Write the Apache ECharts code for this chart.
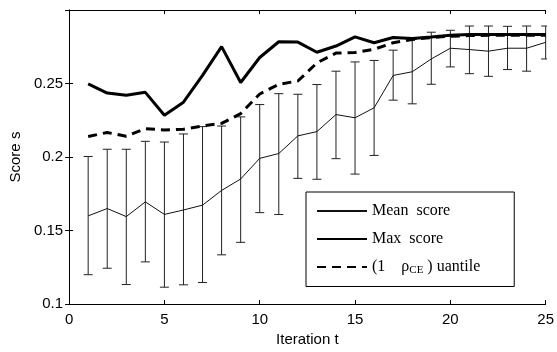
<!DOCTYPE html>
<html>
<head>
<meta charset="utf-8">
<script src="https://cdn.jsdelivr.net/npm/echarts@6/dist/echarts.min.js"></script>
<style>
  html, body { margin: 0; padding: 0; background: #fff; }
  #chart { width: 557px; height: 352px; }
</style>
</head>
<body>
<div id="chart"></div>
<script>
var iterations = [1, 2, 3, 4, 5, 6, 7, 8, 9, 10, 11, 12, 13, 14, 15, 16, 17, 18, 19, 20, 21, 22, 23, 24, 25];
var meanScore = [0.160, 0.165, 0.1595, 0.1695, 0.161, 0.164, 0.1673, 0.1773, 0.1851, 0.1991, 0.2024, 0.2144, 0.2173,
                 0.2289, 0.2267, 0.2335, 0.2555, 0.258, 0.2667, 0.274, 0.2731, 0.272, 0.274, 0.274, 0.278];
var errLow = [0.120, 0.1244, 0.1133, 0.1287, 0.1115, 0.1131, 0.1147, 0.1335, 0.142, 0.1622, 0.1609, 0.1855, 0.1849,
              0.1989, 0.1884, 0.2011, 0.2387, 0.2362, 0.2495, 0.2613, 0.2567, 0.2549, 0.2595, 0.2584, 0.2667];
var errHigh = [0.2004, 0.2053, 0.2053, 0.2107, 0.2102, 0.2157, 0.2207, 0.2211, 0.2273, 0.2357, 0.2431, 0.2427, 0.2493,
               0.2584, 0.2647, 0.2657, 0.2727, 0.280, 0.2849, 0.2862, 0.2891, 0.2891, 0.2889, 0.2891, 0.2891];
var maxScore = [0.2497, 0.2435, 0.242, 0.244, 0.2284, 0.2373, 0.2555, 0.2751, 0.2507, 0.2677, 0.2784, 0.2782, 0.2713,
                0.2755, 0.2817, 0.2777, 0.2813, 0.2806, 0.2817, 0.2829, 0.2833, 0.2833, 0.2833, 0.2833, 0.2833];
var quantile = [0.214, 0.2167, 0.2142, 0.2193, 0.2184, 0.2189, 0.2211, 0.2229, 0.2295, 0.2429, 0.2495, 0.2517, 0.264,
                0.2707, 0.2711, 0.2733, 0.2777, 0.280, 0.2813, 0.2822, 0.2826, 0.2828, 0.2828, 0.2828, 0.2828];
var xTicks = [0, 5, 10, 15, 20, 25];
var yTicks = ['0.1', '0.15', '0.2', '0.25'];

var chart = echarts.init(document.getElementById('chart'), null, { renderer: 'canvas' });

function zip(a, b) {
    return a.map(function (v, i) { return [v, b[i]]; });
}

var errData = iterations.map(function (t, i) { return [t, errLow[i], errHigh[i]]; });

var sans = 'Liberation Sans';
var serif = 'Liberation Serif';

var baseX = {
    type: 'value', min: 0, max: 25, interval: 5,
    axisLine: { show: true, lineStyle: { color: '#000', width: 1 } },
    axisTick: { show: true, inside: true, length: 4, lineStyle: { color: '#000' } },
    splitLine: { show: false }
};
var baseY = {
    type: 'value', min: 0.1, max: 0.3, interval: 0.05,
    axisLine: { show: true, lineStyle: { color: '#000', width: 1 } },
    axisTick: { show: true, inside: true, length: 4, lineStyle: { color: '#000' } },
    splitLine: { show: false }
};

var option = {
    animation: false,
    grid: { left: 69, right: 8, top: 10, bottom: 43 },
    legend: {
        orient: 'vertical',
        left: 306,
        top: 192,
        padding: [11, 34, 11, 10],
        itemWidth: 50,
        itemHeight: 14,
        itemGap: 12,
        backgroundColor: '#fff',
        borderColor: '#000',
        borderWidth: 1,
        borderRadius: 0,
        itemStyle: { opacity: 0 },
        data: ['Mean score', 'Max score', 'quantile'],
        formatter: function (name) {
            if (name === 'Mean score') return 'Mean  score';
            if (name === 'Max score') return 'Max  score';
            return '(1    \u03c1{sub|CE} ) uantile';
        },
        textStyle: {
            fontFamily: serif, fontSize: 16, color: '#000',
            rich: {
                sub: { fontFamily: serif, fontSize: 11, color: '#000', verticalAlign: 'bottom', padding: [6, 0, 0, 0] }
            }
        }
    },
    xAxis: [
        Object.assign({}, baseX, {
            position: 'bottom',
            name: 'Iteration t',
            nameLocation: 'middle',
            nameGap: 27,
            nameTextStyle: { fontFamily: sans, fontSize: 15, color: '#000' },
            axisLabel: { fontFamily: sans, fontSize: 15, color: '#000', margin: 8 }
        }),
        Object.assign({}, baseX, { position: 'top', axisLabel: { show: false } })
    ],
    yAxis: [
        Object.assign({}, baseY, {
            position: 'left',
            name: 'Score s',
            nameLocation: 'middle',
            nameGap: 45,
            nameTextStyle: { fontFamily: sans, fontSize: 15, color: '#000' },
            axisLabel: {
                fontFamily: sans, fontSize: 15, color: '#000', margin: 6,
                showMaxLabel: false,
                formatter: function (v) { return String(Math.round(v * 100) / 100); }
            }
        }),
        Object.assign({}, baseY, { position: 'right', axisLabel: { show: false } })
    ],
    series: [
        {
            name: 'errors',
            type: 'custom',
            clip: true,
            data: errData,
            z: 2,
            renderItem: function (params, api) {
                var t = api.value(0);
                var lo = api.coord([t, api.value(1)]);
                var hi = api.coord([t, api.value(2)]);
                var cap = 4.5;
                var st = { stroke: '#222', lineWidth: 1 };
                return {
                    type: 'group',
                    children: [
                        { type: 'line', shape: { x1: lo[0], y1: lo[1], x2: hi[0], y2: hi[1] }, style: st },
                        { type: 'line', shape: { x1: lo[0] - cap, y1: lo[1], x2: lo[0] + cap, y2: lo[1] }, style: st },
                        { type: 'line', shape: { x1: hi[0] - cap, y1: hi[1], x2: hi[0] + cap, y2: hi[1] }, style: st }
                    ]
                };
            }
        },
        {
            name: 'Mean score',
            type: 'line',
            symbol: 'none',
            data: zip(iterations, meanScore),
            lineStyle: { color: '#111', width: 1 },
            itemStyle: { color: '#111' },
            z: 3
        },
        {
            name: 'Max score',
            type: 'line',
            symbol: 'none',
            data: zip(iterations, maxScore),
            lineStyle: { color: '#000', width: 3 },
            itemStyle: { color: '#000' },
            z: 4
        },
        {
            name: 'quantile',
            type: 'line',
            symbol: 'none',
            data: zip(iterations, quantile),
            lineStyle: { color: '#000', width: 3, type: [9, 6] },
            itemStyle: { color: '#000' },
            z: 4
        }
    ]
};

chart.setOption(option);

window.onresize = function () {
    chart.resize();
};
</script>
</body>
</html>
